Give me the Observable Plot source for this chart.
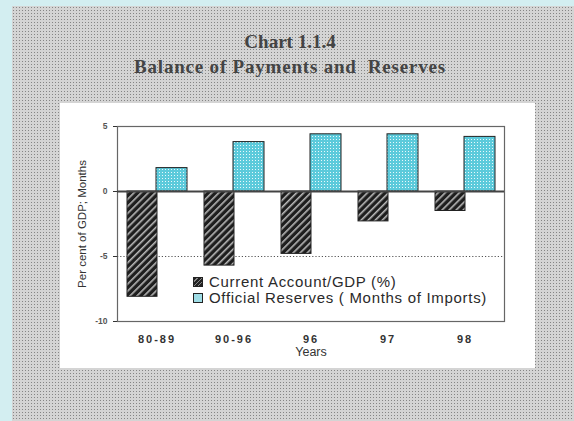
<!DOCTYPE html>
<html>
<head>
<meta charset="utf-8">
<script src="https://cdn.jsdelivr.net/npm/d3@7"></script>
<script src="https://cdn.jsdelivr.net/npm/@observablehq/plot@0.6"></script>
<style>
  html, body { margin: 0; padding: 0; }
  #page { position: relative; width: 574px; height: 421px; background: #d3eef1; overflow: hidden; }
  #paper { position: absolute; left: 12px; top: 6px; right: 0; bottom: 0;
    background-color: #d4d4d4;
    background-image: radial-gradient(#858585 0.85px, transparent 1px);
    background-size: 3px 3px; }
  .title { position: absolute; left: 0; width: 580px; text-align: center;
    font-family: "Liberation Serif", "DejaVu Serif", serif; font-weight: bold; color: #444; }
  #panel { position: absolute; left: 60px; top: 103px; width: 475px; height: 265px; background: #fff; }
  #legend { position: absolute; left: 133px; top: 171px; font-family: "Liberation Sans", Arial, sans-serif;
    font-size: 15px; letter-spacing: 0.7px; color: #2a2a2a; line-height: 16px; }
  #legend .row { display: flex; align-items: center; }
  #legend .sw { width: 8px; height: 8px; border: 1px solid #222; margin-right: 6px; }
</style>
</head>
<body>
<div id="page">
  <div id="paper"></div>
  <div class="title" style="top:31px;font-size:19px;">Chart 1.1.4</div>
  <div class="title" style="top:56px;font-size:19px;letter-spacing:0.8px;">Balance of Payments and&nbsp; Reserves</div>
  <div id="panel">
    <div id="chart"></div>
    <div id="legend">
      <div class="row"><span class="sw" style="background:repeating-linear-gradient(135deg,#222 0 2px,#888 2px 3px);"></span>Current Account/GDP (%)</div>
      <div class="row"><span class="sw" style="background:#9fdde6;"></span>Official Reserves ( Months of Imports)</div>
    </div>
  </div>
</div>
<script>
const years = ["80-89", "90-96", "96", "97", "98"];
const currentAccount = [-8.1, -5.7, -4.8, -2.3, -1.5];
const reserves = [1.8, 3.8, 4.4, 4.4, 4.2];
const yTicks = [-10, -5, 0, 5];

const caData = years.map((y, i) => ({year: y, value: currentAccount[i]}));
const resData = years.map((y, i) => ({year: y, value: reserves[i]}));

const chart = Plot.plot({
  width: 475,
  height: 265,
  marginLeft: 57,
  marginRight: 31,
  marginTop: 23,
  marginBottom: 47,
  style: {background: "transparent", fontFamily: "Liberation Sans, Arial, sans-serif", color: "#333"},
  x: {domain: years, padding: 0, label: "Years", labelAnchor: "center", labelOffset: 34, tickSize: 0, tickPadding: 14},
  y: {domain: [-10, 5], ticks: yTicks, tickFormat: d => String(d), tickSize: 4, tickPadding: 6,
      label: "Per cent of GDP; Months", labelAnchor: "center", labelOffset: 40, line: true},
  marks: [
    Plot.frame({stroke: "#666", strokeWidth: 1.2}),
    Plot.ruleY([-5], {stroke: "#555", strokeDasharray: "1.2,2", strokeWidth: 1.2}),
    Plot.barY(caData, {x: "year", y: "value", fill: "url(#hatch)", stroke: "#222", strokeWidth: 1, insetLeft: 9, insetRight: 38}),
    Plot.barY(resData, {x: "year", y: "value", fill: "url(#dots)", stroke: "#222", strokeWidth: 1, insetLeft: 38, insetRight: 8}),
    Plot.ruleY([0], {stroke: "#444", strokeWidth: 1.8})
  ]
});

const ns = "http://www.w3.org/2000/svg";
const defs = document.createElementNS(ns, "defs");
defs.innerHTML = `
  <pattern id="hatch" patternUnits="userSpaceOnUse" width="5" height="5" patternTransform="rotate(45)">
    <rect width="5" height="5" fill="#1e1e1e"/>
    <rect x="0" width="1.6" height="5" fill="#b8b8b8"/>
  </pattern>
  <pattern id="dots" patternUnits="userSpaceOnUse" width="3" height="3">
    <rect width="3" height="3" fill="#5ccadb"/>
    <rect width="1" height="1" fill="#e8f8fb"/>
  </pattern>`;
chart.insertBefore(defs, chart.firstChild);
chart.querySelectorAll("text").forEach(t => {
  if (t.textContent.includes("Per cent")) { t.textContent = "Per cent of GDP; Months"; t.setAttribute("font-size", "11.5"); }
  if (t.textContent.includes("Years")) { t.textContent = "Years"; t.setAttribute("font-size", "12.5"); }
});
chart.querySelectorAll('[aria-label="y-axis tick label"] text, [aria-label="y-axis"] g text').forEach(t => { t.setAttribute("font-size", "8.5"); t.setAttribute("font-weight", "bold"); t.setAttribute("fill", "#555"); });
chart.querySelectorAll('[aria-label="x-axis tick label"] text, [aria-label="x-axis"] g text').forEach(t => { t.setAttribute("font-size", "11"); t.setAttribute("font-weight", "bold"); t.setAttribute("letter-spacing", "2"); });
document.getElementById("chart").appendChild(chart);
</script>
</body>
</html>
